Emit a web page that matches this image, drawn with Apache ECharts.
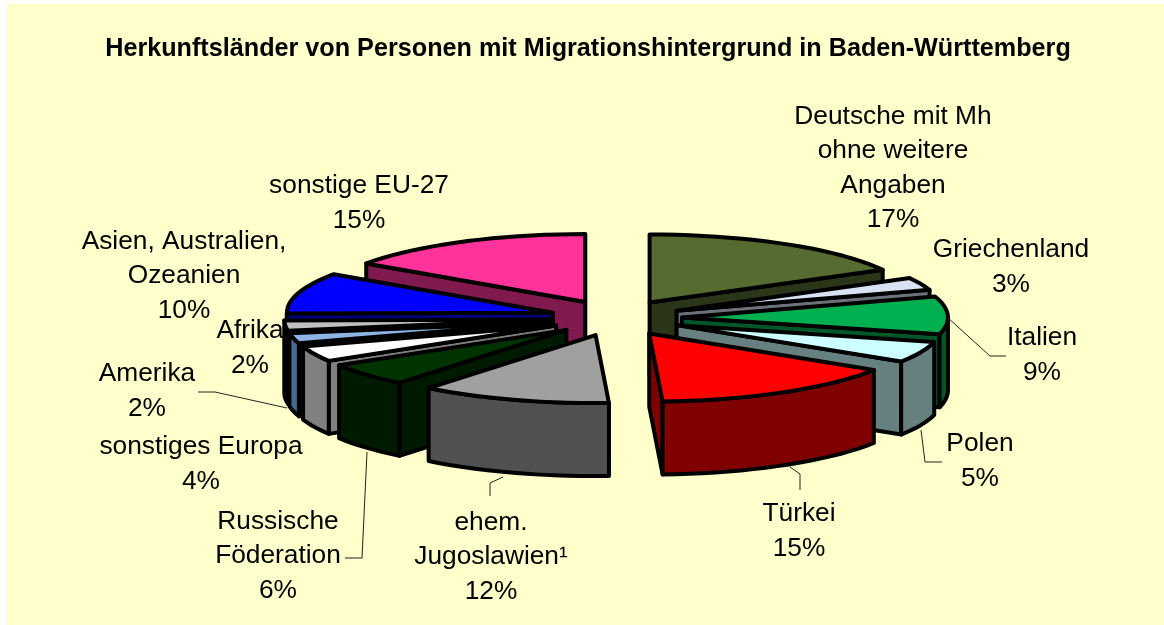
<!DOCTYPE html>
<html><head><meta charset="utf-8">
<style>html,body{margin:0;padding:0;background:#fff}#c{width:1164px;height:625px}</style>
<script src="https://cdn.jsdelivr.net/npm/echarts@6/dist/echarts.min.js"></script>
</head><body><div id="c"></div>
<script>
const chartTitle = 'Herkunftsländer von Personen mit Migrationshintergrund in Baden-Württemberg';
const categories = ['Deutsche mit Mh\nohne weitere\nAngaben','Griechenland','Italien','Polen','Türkei','ehem.\nJugoslawien¹','Russische\nFöderation','sonstiges Europa','Amerika','Afrika','Asien, Australien,\nOzeanien','sonstige EU-27'];
const shares = [17,3,9,5,15.2,11.6,5.5,3.7,2.4,2.4,9.8,15.4];
const topColors = ['#556B2F','#D9E2F3','#00B050','#CCFFFF','#FF0000','#A0A0A0','#003300','#FFFFFF','#8EB4E3','#C0C0C0','#0000FF','#FF3399'];
const wallColors = ['#2B3618','#6D7179','#005828','#668080','#800000','#505050','#001A00','#808080','#47688F','#606060','#000080','#80194D'];

// drawing constants of the projected pie
const pie = {cx:616, cy:318, rx:266, ry:68, depth:73, ex:66, ey:18, border:4};
// label block centres
const labelPos = [[893,168],[1011,267],[1042,355],[980,461],[799,531],[491,557],[278,556],[201,464],[147,391],[250,348],[184,276],[359,203]];
const leaders = [
 [[947,317],[990,356],[1006,356]],
 [[921,430],[925,462],[942,462]],
 [[790,467],[800,474],[800,490]],
 [[503,477],[490,483],[490,496]],
 [[367,452],[362,558],[345,558]],
 [[287,408],[215,392],[198,392]]
];

const total = shares.reduce((a,b)=>a+b,0);
let acc = 0;
const sliceData = shares.map((v,i)=>{const s=acc; acc+=v; return {value:[s/total*360,(s+v)/total*360,i], name:categories[i]};});
const rad = d=>d*Math.PI/180;

function renderSlice(params, api){
  const a0=api.value(0), a1=api.value(1), i=api.value(2), mid=(a0+a1)/2;
  const ax=pie.cx+pie.ex*Math.sin(rad(mid)), ay=pie.cy-pie.ey*Math.cos(rad(mid));
  const pt=(a,d)=>[ax+pie.rx*Math.sin(rad(a)), ay-pie.ry*Math.cos(rad(a))+(d||0)];
  const arc=(s,e)=>{const n=Math.max(2,Math.ceil((e-s)/3)),o=[];for(let k=0;k<=n;k++)o.push(pt(s+(e-s)*k/n));return o;};
  const st=c=>({fill:c,stroke:'#000',lineWidth:pie.border,lineJoin:'round'});
  const kids=[];
  const D=pie.depth;
  const wall=pts=>kids.push({type:'polygon',shape:{points:pts},style:st(wallColors[i])});
  if(Math.sin(rad(a0))<0) wall([[ax,ay],pt(a0),pt(a0,D),[ax,ay+D]]);
  if(Math.sin(rad(a1))>0) wall([[ax,ay],pt(a1),pt(a1,D),[ax,ay+D]]);
  const s=Math.max(a0,90), e=Math.min(a1,270);
  if(e>s){const t=arc(s,e); wall(t.concat(t.slice().reverse().map(p=>[p[0],p[1]+D])));}
  kids.push({type:'polygon',shape:{points:[[ax,ay]].concat(arc(a0,a1))},style:st(topColors[i])});
  return {type:'group',children:kids};
}
// paint from the back of the pie to the front
const order = sliceData.slice().sort((p,q)=>Math.cos(rad((q.value[0]+q.value[1])/2))-Math.cos(rad((p.value[0]+p.value[1])/2)));

const labelFont='26.3px "Liberation Sans", Arial, sans-serif';
const graphics=[{type:'rect',z:-1,shape:{x:7,y:4,width:1157,height:621},style:{fill:'#FFFFCC'}}];
leaders.forEach(l=>graphics.push({type:'polyline',z:9,shape:{points:l},style:{fill:null,stroke:'#222',lineWidth:1}}));
categories.forEach((n,i)=>graphics.push({type:'text',z:10,style:{text:n+'\n'+Math.round(shares[i])+'%',x:labelPos[i][0],y:labelPos[i][1],align:'center',verticalAlign:'middle',font:labelFont,lineHeight:34.5,fill:'#000'}}));

const chart=echarts.init(document.getElementById('c'),null,{renderer:'canvas'});
chart.setOption({
  animation:false,
  backgroundColor:'#fff',
  title:{text:chartTitle,left:583,top:32,textAlign:'center',textStyle:{fontFamily:'"Liberation Sans", Arial, sans-serif',fontSize:25.2,fontWeight:'bold',color:'#000'}},
  graphic:graphics,
  series:[{type:'custom',coordinateSystem:'none',renderItem:renderSlice,data:order,silent:true,z:5}]
});
</script></body></html>
